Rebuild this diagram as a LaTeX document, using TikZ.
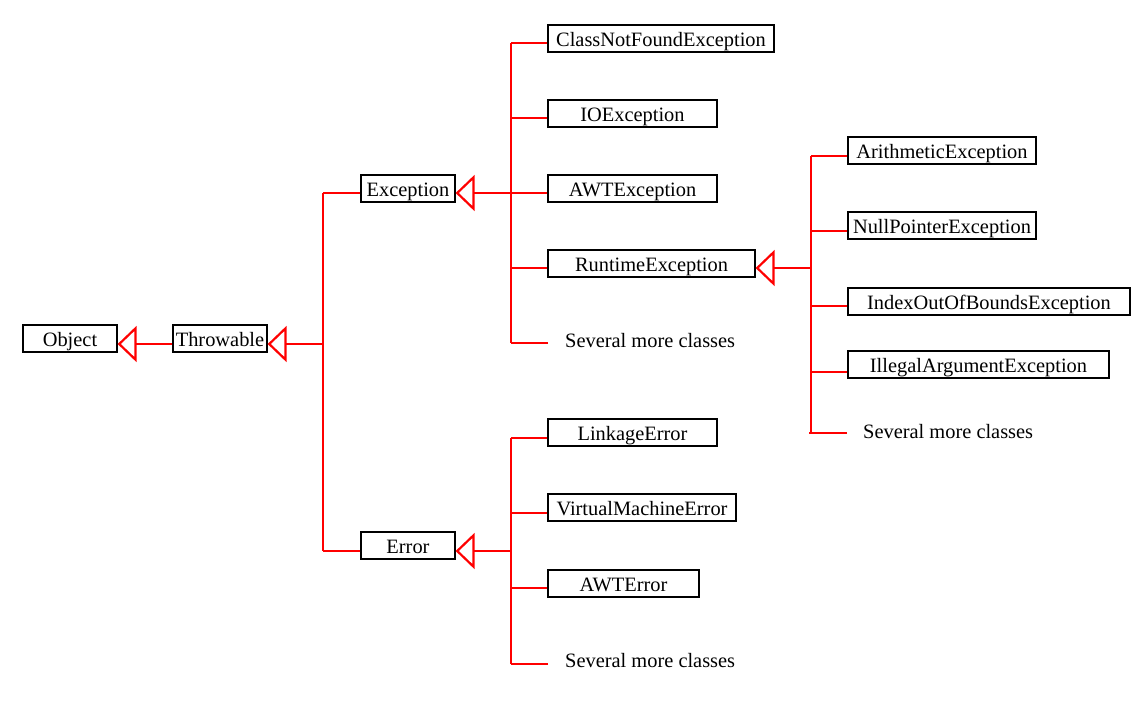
\documentclass[tikz,border=0pt]{standalone}
\usepackage{fontspec}
\setmainfont{Liberation Serif}
\usetikzlibrary{arrows.meta}
\begin{document}
\begin{tikzpicture}[x=1pt,y=-1pt,
  cls/.style={draw=black, line width=1.2pt, inner sep=0pt, minimum height=27pt,
    text height=17.5pt, text depth=1pt, font=\fontsize{20.4}{24}\selectfont},
  note/.style={inner sep=0pt, anchor=base west, font=\fontsize{20.4}{24}\selectfont},
  branch/.style={draw=red, line width=1.4pt},
  trunk/.style={draw=red, line width=2pt},
  gen/.style={draw=red, line width=2.6pt,
    -{Triangle[open, length=19pt, width=36pt, line width=2.2pt]}},
]
\useasboundingbox (0,0) rectangle (1147,709);

% nodes
\node[cls, minimum width=94pt]  (object)    at (70,338.5)   {Object};
\node[cls, minimum width=94pt]  (throwable) at (220,338.5)  {Throwable};
\node[cls, minimum width=94pt]  (exception) at (408,188.5)  {Exception};
\node[cls, minimum width=94pt]  (error)     at (408,545.5)  {Error};
\node[cls, minimum width=226pt] (cnf)       at (661,38.5)   {ClassNotFoundException};
\node[cls, minimum width=169pt] (io)        at (632.5,113.5){IOException};
\node[cls, minimum width=169pt] (awtexc)    at (632.5,188.5){AWTException};
\node[cls, minimum width=207pt] (runtime)   at (651.5,263.5){RuntimeException};
\node[note] (sev1) at (565,347) {Several more classes};
\node[cls, minimum width=188pt] (arith)     at (942,150.5)  {ArithmeticException};
\node[cls, minimum width=188pt] (nullp)     at (942,225.5)  {NullPointerException};
\node[cls, minimum width=282pt] (index)     at (989,301.5)  {IndexOutOfBoundsException};
\node[cls, minimum width=261pt] (illegal)   at (978.5,364.5){IllegalArgumentException};
\node[note] (sev2) at (863,438) {Several more classes};
\node[cls, minimum width=169pt] (linkage)   at (632.5,432.5){LinkageError};
\node[cls, minimum width=188pt] (vme)       at (642,507.5)  {VirtualMachineError};
\node[cls, minimum width=151pt] (awterr)    at (623.5,583.5){AWTError};
\node[note] (sev3) at (565,667) {Several more classes};

% trunk coordinates
\coordinate (t0)   at (323,344);
\coordinate (ttop) at (323,193);
\coordinate (tbot) at (323,551);

\coordinate (e0)   at (511,193);
\coordinate (etop) at (511,43);
\coordinate (ebot) at (511,343);
\coordinate (s1)   at (548,343);

\coordinate (r0)   at (811,268);
\coordinate (rtop) at (811,156);
\coordinate (rbot) at (811,433);
\coordinate (s2)   at (847,433);

\coordinate (er0)   at (511,551);
\coordinate (ertop) at (511,438);
\coordinate (erbot) at (511,664);
\coordinate (s3)    at (548,664);

% Throwable -> Object
\draw[gen] ([yshift=-5.5pt]throwable.west) -- ([yshift=-5.5pt]object.east);

% Exception / Error -> Throwable
\draw[branch] ([yshift=-4.5pt]exception.west) -| (ttop);
\draw[branch] ([yshift=-5.5pt]error.west) -| (tbot);
\draw[trunk] (ttop) -- (tbot);
\draw[gen] (t0) -- ([yshift=-5.5pt]throwable.east);

% subclasses of Exception
\draw[branch] ([yshift=-4.5pt]cnf.west) -| (etop);
\draw[branch] ([yshift=-4.5pt]io.west) -| (etop);
\draw[branch] ([yshift=-4.5pt]awtexc.west) -| (etop);
\draw[branch] ([yshift=-4.5pt]runtime.west) -| (etop);
\draw[branch] (s1) -- (ebot);
\draw[trunk] (etop) -- (ebot);
\draw[gen] (e0) -- ([yshift=-4.5pt]exception.east);

% subclasses of RuntimeException
\draw[branch] ([yshift=-5.5pt]arith.west) -| (rtop);
\draw[branch] ([yshift=-5.5pt]nullp.west) -| (rtop);
\draw[branch] ([yshift=-4.5pt]index.west) -| (rtop);
\draw[branch] ([yshift=-7.5pt]illegal.west) -| (rtop);
\draw[branch] (s2) -- ([xshift=-2pt]rbot);
\draw[trunk] (rtop) -- (rbot);
\draw[gen] (r0) -- ([yshift=-4.5pt]runtime.east);

% subclasses of Error
\draw[branch] ([yshift=-5.5pt]linkage.west) -| (ertop);
\draw[branch] ([yshift=-5.5pt]vme.west) -| (ertop);
\draw[branch] ([yshift=-4.5pt]awterr.west) -| (ertop);
\draw[branch] (s3) -- (erbot);
\draw[trunk] (ertop) -- (erbot);
\draw[gen] (er0) -- ([yshift=-5.5pt]error.east);
\end{tikzpicture}
\end{document}
